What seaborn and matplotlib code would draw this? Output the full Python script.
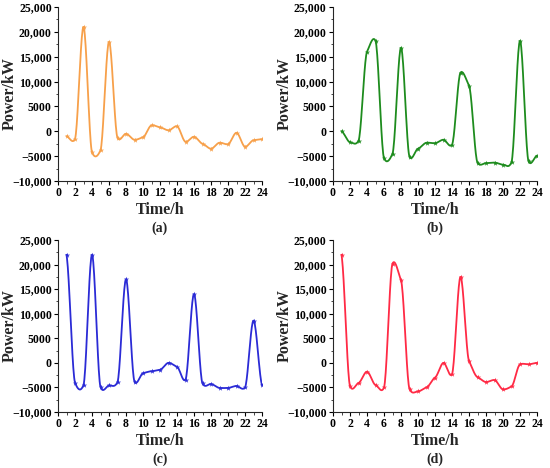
import numpy as np
import pandas as pd
import matplotlib
matplotlib.use("Agg")
import matplotlib.pyplot as plt
from matplotlib.ticker import MultipleLocator
import seaborn as sns

hours = list(range(1, 25))
power_a = [-1000, -1500, 21000, -4200, -3800, 18000, -1300, -500, -1700, -1200,
           1200, 800, 200, 1000, -2100, -1100, -2500, -3500, -2300, -2600,
           -300, -3100, -1800, -1600]
power_b = [0, -2200, -1900, 16000, 18200, -5400, -4500, 16800, -5100, -3500,
           -2300, -2400, -1700, -2700, 11800, 9200, -6300, -6400, -6300, -6700,
           -6200, 18200, -6000, -4900]
power_c = [22000, -4000, -4500, 22000, -4900, -4600, -3900, 17000, -3800, -2100,
           -1700, -1400, 0, -800, -3400, 14000, -4200, -4300, -5100, -5100,
           -4700, -5000, 8600, -4500]
power_d = [22000, -4700, -4100, -1800, -4500, -5000, 20200, 16800, -5300, -5800,
           -5000, -3000, 0, -2300, 17500, 400, -2900, -3900, -3500, -5400,
           -4800, -300, -300, 0]
panel_labels = ["(a)", "(b)", "(c)", "(d)"]
colors = ["#F7A04A", "#1E8C1E", "#2B2BD6", "#FF2A45"]
ytick_vals = [-10000, -5000, 0, 5000, 10000, 15000, 20000, 25000]
ytick_labels = ["\u221210,000", "\u22125000", "0", "5000", "10,000", "15,000", "20,000", "25,000"]
xtick_vals = list(range(0, 25, 2))

sns.set_style("ticks")
plt.rcParams["font.family"] = ["Liberation Serif", "DejaVu Serif"]
plt.rcParams["font.weight"] = "bold"


def smooth_curve(x, y, factor=0.35, n=20):
    """Cardinal-spline rendering of the connecting line (Origin-like spline)."""
    x = np.asarray(x, float)
    y = np.asarray(y, float)
    m = np.zeros_like(y)
    m[1:-1] = factor * (y[2:] - y[:-2]) / 2.0
    m[0] = factor * (y[1] - y[0])
    m[-1] = factor * (y[-1] - y[-2])
    xs, ys = [], []
    for i in range(len(x) - 1):
        t = np.linspace(0, 1, n, endpoint=(i == len(x) - 2))
        h00 = 2 * t**3 - 3 * t**2 + 1
        h10 = t**3 - 2 * t**2 + t
        h01 = -2 * t**3 + 3 * t**2
        h11 = t**3 - t**2
        xs.append(x[i] + t * (x[i + 1] - x[i]))
        ys.append(h00 * y[i] + h10 * m[i] + h01 * y[i + 1] + h11 * m[i + 1])
    return np.concatenate(xs), np.concatenate(ys)


fig = plt.figure(figsize=(5.5, 4.68), dpi=100)
W, H = 550.0, 468.0
positions = [
    (58, 7, 262, 181),
    (333, 7, 537, 181),
    (58, 240, 262, 412),
    (333, 240, 537, 412),
]
series = [power_a, power_b, power_c, power_d]

for (l, t, r, b), vals, col, lab in zip(positions, series, colors, panel_labels):
    ax = fig.add_axes([l / W, (H - b) / H, (r - l) / W, (b - t) / H])
    sx, sy = smooth_curve(hours, vals)
    sns.lineplot(x=sx, y=sy, ax=ax, color=col, linewidth=1.3, sort=False, estimator=None)
    df = pd.DataFrame({"Time": hours, "Power": vals})
    sns.scatterplot(data=df, x="Time", y="Power", ax=ax, color=col, marker="*",
                    s=16, linewidth=0, zorder=3)
    ax.set_xlim(0, 24)
    ax.set_ylim(-10000, 25000)
    ax.set_xticks(xtick_vals)
    ax.set_xticklabels([str(v) for v in xtick_vals])
    ax.set_yticks(ytick_vals)
    ax.set_yticklabels(ytick_labels)
    ax.xaxis.set_minor_locator(MultipleLocator(1))
    ax.yaxis.set_minor_locator(MultipleLocator(2500))
    ax.tick_params(which="major", direction="out", length=3, width=0.8,
                   labelsize=8.5, pad=1.5, colors="black")
    ax.tick_params(which="minor", direction="out", length=1.8, width=0.6)
    for lbl in ax.get_xticklabels() + ax.get_yticklabels():
        lbl.set_fontweight("bold")
    ax.spines["top"].set_visible(False)
    ax.spines["right"].set_visible(False)
    ax.spines["left"].set_linewidth(0.8)
    ax.spines["bottom"].set_linewidth(0.8)
    ax.set_xlabel("Time/h", fontsize=11.5, fontweight="bold")
    ax.set_ylabel("Power/kW", fontsize=11.5, fontweight="bold")
    ax.xaxis.set_label_coords(0.5, -29.0 / (b - t), transform=ax.transAxes)
    ax.yaxis.set_label_coords(-48.0 / (r - l), 0.5)
    ax.xaxis.label.set_va("center")
    ax.yaxis.label.set_va("center")
    fig.text(((l + r) / 2) / W, (H - (b + 47)) / H, lab, ha="center", va="center",
             fontsize=10, fontweight="bold")

fig.savefig("out.png", dpi=100)
